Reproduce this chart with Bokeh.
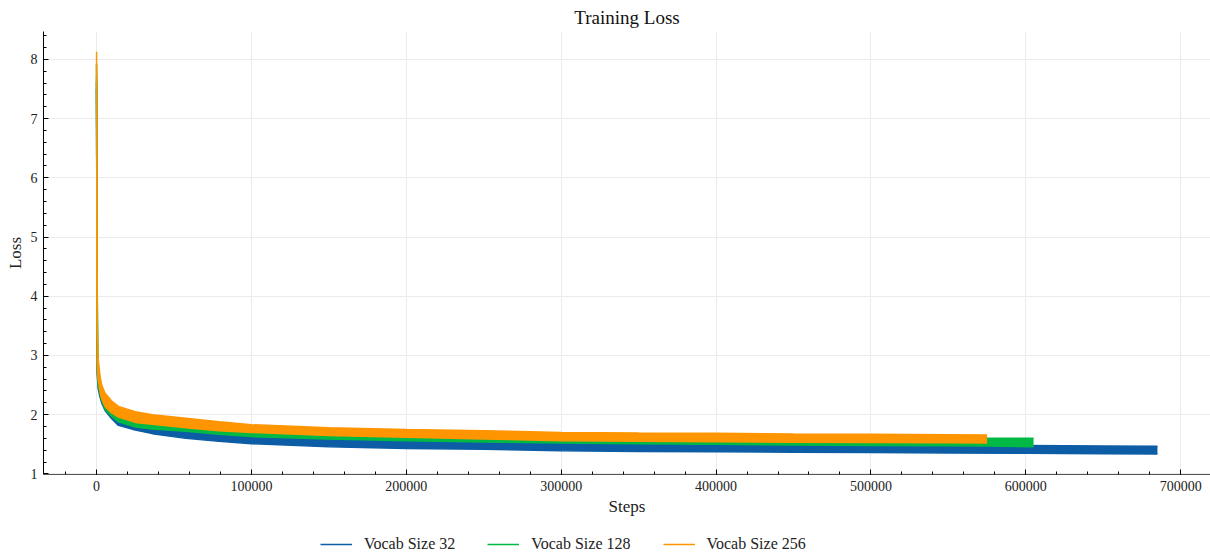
from bokeh.plotting import figure
from bokeh.layouts import column
from bokeh.models import (Range1d, SingleIntervalTicker, BasicTickFormatter,
                          Legend, LegendItem)
from bokeh.embed import file_html
from bokeh.resources import INLINE

# ---- data (lower / upper envelope of each noisy loss curve)
steps_32 = [0, 400, 1000, 2200, 3300, 5500, 9800, 14100, 25000, 36000, 57600, 79000,
            100000, 150000, 200000, 250000, 300000, 350000, 400000, 450000, 500000,
            550000, 600000, 650000, 685000]
lo_32 = [7.50, 2.70, 2.45, 2.30, 2.20, 2.07, 1.93, 1.82, 1.74, 1.68, 1.60, 1.55,
         1.51, 1.46, 1.43, 1.415, 1.39, 1.38, 1.375, 1.365, 1.36,
         1.355, 1.35, 1.34, 1.335]
hi_32 = [7.62, 3.00, 2.70, 2.55, 2.42, 2.27, 2.12, 2.00, 1.91, 1.84, 1.76, 1.70,
         1.66, 1.61, 1.58, 1.56, 1.54, 1.53, 1.52, 1.51, 1.50,
         1.49, 1.48, 1.47, 1.465]

steps_128 = [0, 400, 1000, 2200, 3300, 5500, 9800, 14100, 25000, 36000, 57600, 79000,
             100000, 150000, 200000, 250000, 300000, 350000, 400000, 450000, 500000,
             550000, 575000, 605000]
lo_128 = [7.70, 2.80, 2.50, 2.35, 2.24, 2.09, 1.97, 1.88, 1.79, 1.76, 1.72, 1.67,
          1.63, 1.59, 1.56, 1.54, 1.52, 1.51, 1.50, 1.49, 1.48,
          1.475, 1.47, 1.46]
hi_128 = [7.92, 4.20, 2.85, 2.60, 2.46, 2.30, 2.15, 2.05, 1.95, 1.90, 1.85, 1.80,
          1.76, 1.72, 1.69, 1.67, 1.65, 1.64, 1.63, 1.62, 1.61,
          1.605, 1.60, 1.60]

steps_256 = [0, 400, 1000, 2200, 3300, 5500, 9800, 14100, 25000, 36000, 57600, 79000,
             100000, 150000, 200000, 250000, 300000, 350000, 400000, 450000, 500000,
             550000, 575000]
lo_256 = [7.90, 2.90, 2.60, 2.40, 2.27, 2.14, 2.03, 1.96, 1.87, 1.84, 1.78, 1.73,
          1.70, 1.65, 1.62, 1.59, 1.56, 1.55, 1.545, 1.535, 1.53,
          1.525, 1.52]
hi_256 = [8.13, 3.60, 2.95, 2.66, 2.50, 2.36, 2.23, 2.14, 2.05, 2.00, 1.94, 1.88,
          1.83, 1.78, 1.75, 1.73, 1.70, 1.69, 1.685, 1.675, 1.67,
          1.66, 1.655]

labels = ["Vocab Size 32", "Vocab Size 128", "Vocab Size 256"]
colors = ["#0C5DA5", "#00B945", "#FF9500"]

FONT = "Liberation Serif"

p = figure(width=1210, height=520, output_backend="svg", toolbar_location=None,
           x_range=Range1d(-34250, 719250), y_range=Range1d(0.99, 8.47),
           min_border_left=43, min_border_right=0, min_border_top=30,
           min_border_bottom=46)
p.outline_line_color = None
p.background_fill_color = "white"
p.border_fill_color = "white"

p.title.text = "Training Loss"
p.title.align = "center"
p.title.text_font = FONT
p.title.text_font_size = "19px"
p.title.text_font_style = "normal"
p.title.text_color = "#111111"
p.title.standoff = 8

series = [(steps_32, lo_32, hi_32), (steps_128, lo_128, hi_128), (steps_256, lo_256, hi_256)]
for (s, lo, hi), c in zip(series, colors):
    p.varea(x=s, y1=lo, y2=hi, fill_color=c, fill_alpha=1.0)
    p.line(s, hi, line_color=c, line_width=1.5)
    p.line(s, lo, line_color=c, line_width=1.5)

# axes
xa = p.xaxis[0]
ya = p.yaxis[0]
xa.ticker = SingleIntervalTicker(interval=100000, num_minor_ticks=5)
ya.ticker = SingleIntervalTicker(interval=1, num_minor_ticks=5)
xa.formatter = BasicTickFormatter(use_scientific=False)
for ax in (xa, ya):
    ax.major_tick_in = 5
    ax.major_tick_out = 0
    ax.minor_tick_in = 3
    ax.minor_tick_out = 0
    ax.major_tick_line_color = "black"
    ax.minor_tick_line_color = "black"
    ax.major_label_text_font = FONT
    ax.major_label_text_font_size = "14px"
    ax.major_label_text_color = "#222222"
    ax.axis_label_text_font = FONT
    ax.axis_label_text_font_size = "17px"
    ax.axis_label_text_font_style = "normal"
    ax.axis_label_text_color = "#222222"
    ax.major_label_standoff = 6
    ax.axis_label_standoff = 3
xa.axis_line_color = "#555555"
ya.axis_line_color = "black"
xa.axis_label = "Steps"
ya.axis_label = "Loss"

p.xgrid.grid_line_color = "#ebebeb"
p.ygrid.grid_line_color = "#ebebeb"
p.xgrid.grid_line_width = 1
p.ygrid.grid_line_width = 1

# legend strip below the plot (its frame is aligned with the main frame)
lg = figure(width=1210, height=35, output_backend="svg", toolbar_location=None,
            x_range=Range1d(0, 1), y_range=Range1d(0, 1),
            min_border=0, x_axis_location=None, y_axis_location=None)
lg.outline_line_color = None
lg.xgrid.visible = False
lg.ygrid.visible = False
items = []
for c, lab in zip(colors, labels):
    # keys only: their data lie outside the strip's ranges
    r = lg.line(x=[5, 6], y=[5, 6], line_color=c, line_width=1.5)
    items.append(LegendItem(label=lab, renderers=[r]))
legend = Legend(items=items, orientation="horizontal", location=(277, 1),
                label_text_font=FONT, label_text_font_size="16px",
                label_text_color="#222222",
                glyph_width=32, glyph_height=20, label_standoff=12, spacing=32,
                padding=0, margin=0, border_line_alpha=0, background_fill_alpha=0)
lg.add_layout(legend)

open("out.html", "w").write(file_html(column(p, lg, spacing=0), INLINE))
